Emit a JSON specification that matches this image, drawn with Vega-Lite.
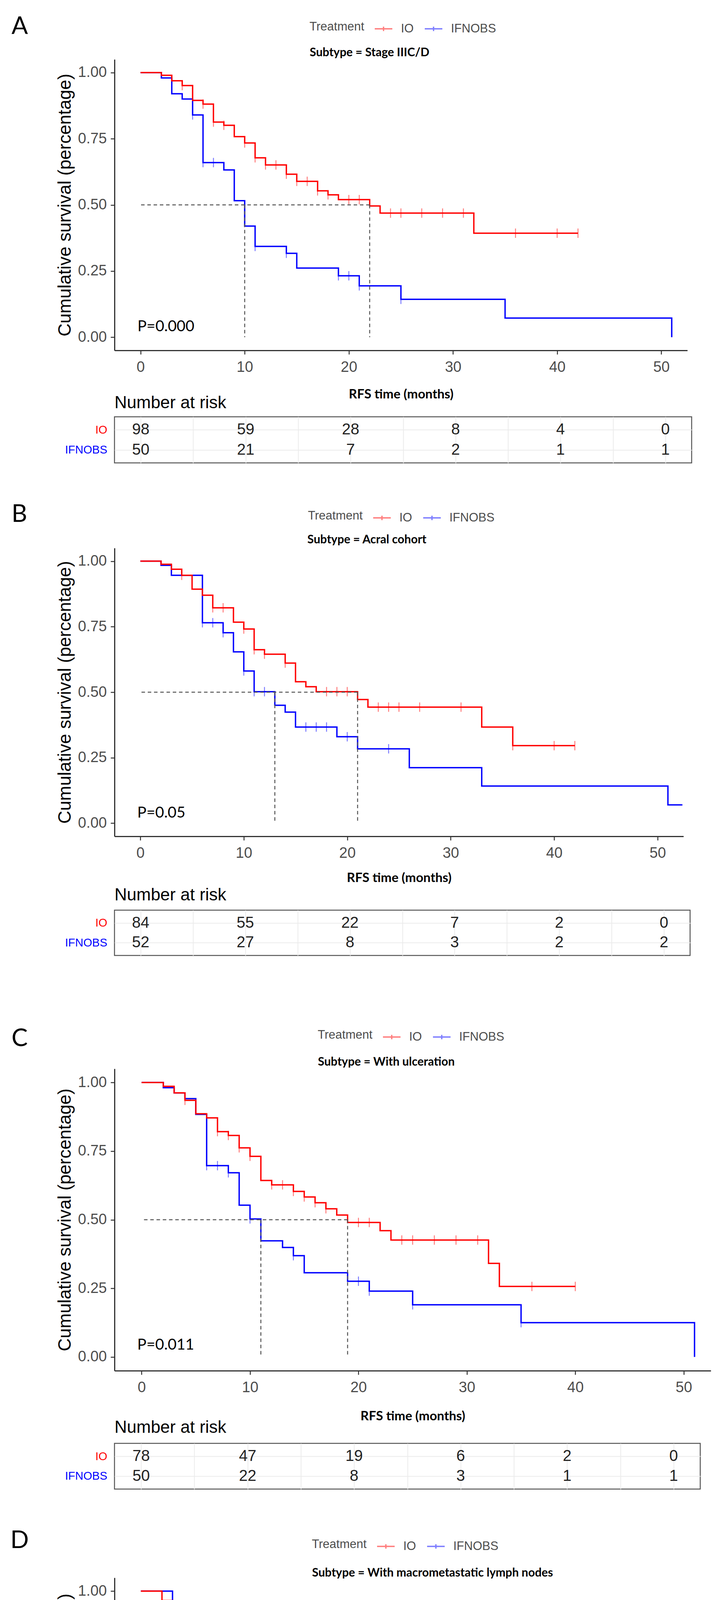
{
  "$schema": "https://vega.github.io/schema/vega-lite/v6.json",
  "background": "white",
  "padding": {"left": 26, "top": 36, "right": 5, "bottom": 5},
  "datasets": {
    "curves": [
      {"p":"A","g":"IFNOBS","t":0,"s":1},{"p":"A","g":"IFNOBS","t":2,"s":0.98},{"p":"A","g":"IFNOBS","t":3,"s":0.92},{"p":"A","g":"IFNOBS","t":4,"s":0.9},{"p":"A","g":"IFNOBS","t":5,"s":0.84},{"p":"A","g":"IFNOBS","t":6,"s":0.66},{"p":"A","g":"IFNOBS","t":8,"s":0.632},{"p":"A","g":"IFNOBS","t":9,"s":0.516},{"p":"A","g":"IFNOBS","t":10,"s":0.42},{"p":"A","g":"IFNOBS","t":11,"s":0.343},{"p":"A","g":"IFNOBS","t":14,"s":0.317},{"p":"A","g":"IFNOBS","t":15,"s":0.261},{"p":"A","g":"IFNOBS","t":19,"s":0.232},{"p":"A","g":"IFNOBS","t":21,"s":0.194},{"p":"A","g":"IFNOBS","t":25,"s":0.143},{"p":"A","g":"IFNOBS","t":35,"s":0.072},{"p":"A","g":"IFNOBS","t":51,"s":0},
      {"p":"A","g":"IO","t":0,"s":1},{"p":"A","g":"IO","t":2,"s":0.99},{"p":"A","g":"IO","t":3,"s":0.969},{"p":"A","g":"IO","t":4,"s":0.951},{"p":"A","g":"IO","t":5,"s":0.895},{"p":"A","g":"IO","t":6,"s":0.881},{"p":"A","g":"IO","t":7,"s":0.813},{"p":"A","g":"IO","t":8,"s":0.801},{"p":"A","g":"IO","t":9,"s":0.758},{"p":"A","g":"IO","t":10,"s":0.734},{"p":"A","g":"IO","t":11,"s":0.678},{"p":"A","g":"IO","t":12,"s":0.651},{"p":"A","g":"IO","t":14,"s":0.616},{"p":"A","g":"IO","t":15,"s":0.589},{"p":"A","g":"IO","t":17,"s":0.553},{"p":"A","g":"IO","t":18,"s":0.538},{"p":"A","g":"IO","t":19,"s":0.52},{"p":"A","g":"IO","t":22,"s":0.496},{"p":"A","g":"IO","t":23,"s":0.469},{"p":"A","g":"IO","t":32,"s":0.393},{"p":"A","g":"IO","t":42,"s":0.393},
      {"p":"B","g":"IFNOBS","t":0,"s":1},{"p":"B","g":"IFNOBS","t":2,"s":0.984},{"p":"B","g":"IFNOBS","t":3,"s":0.946},{"p":"B","g":"IFNOBS","t":6,"s":0.765},{"p":"B","g":"IFNOBS","t":8,"s":0.727},{"p":"B","g":"IFNOBS","t":9,"s":0.654},{"p":"B","g":"IFNOBS","t":10,"s":0.581},{"p":"B","g":"IFNOBS","t":11,"s":0.502},{"p":"B","g":"IFNOBS","t":13,"s":0.45},{"p":"B","g":"IFNOBS","t":14,"s":0.424},{"p":"B","g":"IFNOBS","t":15,"s":0.367},{"p":"B","g":"IFNOBS","t":19,"s":0.33},{"p":"B","g":"IFNOBS","t":21,"s":0.284},{"p":"B","g":"IFNOBS","t":26,"s":0.212},{"p":"B","g":"IFNOBS","t":33,"s":0.142},{"p":"B","g":"IFNOBS","t":51,"s":0.07},{"p":"B","g":"IFNOBS","t":52.4,"s":0.07},
      {"p":"B","g":"IO","t":0,"s":1},{"p":"B","g":"IO","t":2,"s":0.988},{"p":"B","g":"IO","t":3,"s":0.969},{"p":"B","g":"IO","t":4,"s":0.946},{"p":"B","g":"IO","t":5,"s":0.893},{"p":"B","g":"IO","t":6,"s":0.87},{"p":"B","g":"IO","t":7,"s":0.822},{"p":"B","g":"IO","t":9,"s":0.767},{"p":"B","g":"IO","t":10,"s":0.741},{"p":"B","g":"IO","t":11,"s":0.662},{"p":"B","g":"IO","t":12,"s":0.645},{"p":"B","g":"IO","t":14,"s":0.611},{"p":"B","g":"IO","t":15,"s":0.54},{"p":"B","g":"IO","t":16,"s":0.521},{"p":"B","g":"IO","t":17,"s":0.502},{"p":"B","g":"IO","t":21,"s":0.472},{"p":"B","g":"IO","t":22,"s":0.443},{"p":"B","g":"IO","t":33,"s":0.367},{"p":"B","g":"IO","t":36,"s":0.296},{"p":"B","g":"IO","t":42,"s":0.296},
      {"p":"C","g":"IFNOBS","t":0,"s":1},{"p":"C","g":"IFNOBS","t":2,"s":0.981},{"p":"C","g":"IFNOBS","t":3,"s":0.962},{"p":"C","g":"IFNOBS","t":4,"s":0.941},{"p":"C","g":"IFNOBS","t":5,"s":0.884},{"p":"C","g":"IFNOBS","t":6,"s":0.697},{"p":"C","g":"IFNOBS","t":8,"s":0.671},{"p":"C","g":"IFNOBS","t":9,"s":0.553},{"p":"C","g":"IFNOBS","t":10,"s":0.503},{"p":"C","g":"IFNOBS","t":11,"s":0.423},{"p":"C","g":"IFNOBS","t":13,"s":0.399},{"p":"C","g":"IFNOBS","t":14,"s":0.369},{"p":"C","g":"IFNOBS","t":15,"s":0.307},{"p":"C","g":"IFNOBS","t":19,"s":0.276},{"p":"C","g":"IFNOBS","t":21,"s":0.24},{"p":"C","g":"IFNOBS","t":25,"s":0.19},{"p":"C","g":"IFNOBS","t":35,"s":0.125},{"p":"C","g":"IFNOBS","t":51,"s":0},
      {"p":"C","g":"IO","t":0,"s":1},{"p":"C","g":"IO","t":2,"s":0.986},{"p":"C","g":"IO","t":3,"s":0.962},{"p":"C","g":"IO","t":4,"s":0.935},{"p":"C","g":"IO","t":5,"s":0.886},{"p":"C","g":"IO","t":6,"s":0.871},{"p":"C","g":"IO","t":7,"s":0.821},{"p":"C","g":"IO","t":8,"s":0.807},{"p":"C","g":"IO","t":9,"s":0.762},{"p":"C","g":"IO","t":10,"s":0.731},{"p":"C","g":"IO","t":11,"s":0.643},{"p":"C","g":"IO","t":12,"s":0.627},{"p":"C","g":"IO","t":14,"s":0.603},{"p":"C","g":"IO","t":15,"s":0.583},{"p":"C","g":"IO","t":16,"s":0.562},{"p":"C","g":"IO","t":17,"s":0.54},{"p":"C","g":"IO","t":18,"s":0.517},{"p":"C","g":"IO","t":19,"s":0.49},{"p":"C","g":"IO","t":22,"s":0.46},{"p":"C","g":"IO","t":23,"s":0.426},{"p":"C","g":"IO","t":32,"s":0.341},{"p":"C","g":"IO","t":33,"s":0.257},{"p":"C","g":"IO","t":40,"s":0.257},
      {"p":"D","g":"IFNOBS","t":0,"s":1},{"p":"D","g":"IFNOBS","t":3,"s":0.942},{"p":"D","g":"IFNOBS","t":5,"s":0.882},{"p":"D","g":"IFNOBS","t":6,"s":0.709},{"p":"D","g":"IFNOBS","t":8,"s":0.677},{"p":"D","g":"IFNOBS","t":9,"s":0.58},{"p":"D","g":"IFNOBS","t":10,"s":0.478},{"p":"D","g":"IFNOBS","t":11,"s":0.344},{"p":"D","g":"IFNOBS","t":13,"s":0.309},{"p":"D","g":"IFNOBS","t":14,"s":0.274},{"p":"D","g":"IFNOBS","t":15,"s":0.209},{"p":"D","g":"IFNOBS","t":21,"s":0.125},{"p":"D","g":"IFNOBS","t":25,"s":0.065},{"p":"D","g":"IFNOBS","t":52.5,"s":0.065},
      {"p":"D","g":"IO","t":0,"s":1},{"p":"D","g":"IO","t":2,"s":0.965},{"p":"D","g":"IO","t":3,"s":0.935},{"p":"D","g":"IO","t":4,"s":0.914},{"p":"D","g":"IO","t":5,"s":0.858},{"p":"D","g":"IO","t":6,"s":0.821},{"p":"D","g":"IO","t":7,"s":0.747},{"p":"D","g":"IO","t":8,"s":0.73},{"p":"D","g":"IO","t":9,"s":0.708},{"p":"D","g":"IO","t":11,"s":0.636},{"p":"D","g":"IO","t":12,"s":0.587},{"p":"D","g":"IO","t":14,"s":0.559},{"p":"D","g":"IO","t":15,"s":0.503},{"p":"D","g":"IO","t":17,"s":0.476},{"p":"D","g":"IO","t":19,"s":0.448},{"p":"D","g":"IO","t":28,"s":0.381},{"p":"D","g":"IO","t":42,"s":0.381}
    ],
    "censor": [
      {"p":"A","g":"IO","t":4,"s":0.951},{"p":"A","g":"IO","t":6,"s":0.881},{"p":"A","g":"IO","t":7,"s":0.813},{"p":"A","g":"IO","t":8,"s":0.801},{"p":"A","g":"IO","t":10,"s":0.734},{"p":"A","g":"IO","t":11,"s":0.678},{"p":"A","g":"IO","t":12,"s":0.651},{"p":"A","g":"IO","t":13,"s":0.651},{"p":"A","g":"IO","t":14,"s":0.616},{"p":"A","g":"IO","t":15,"s":0.589},{"p":"A","g":"IO","t":16,"s":0.589},{"p":"A","g":"IO","t":17,"s":0.553},{"p":"A","g":"IO","t":18,"s":0.538},{"p":"A","g":"IO","t":20,"s":0.52},{"p":"A","g":"IO","t":21,"s":0.52},{"p":"A","g":"IO","t":24,"s":0.469},{"p":"A","g":"IO","t":25,"s":0.469},{"p":"A","g":"IO","t":27,"s":0.469},{"p":"A","g":"IO","t":29,"s":0.469},{"p":"A","g":"IO","t":31,"s":0.469},{"p":"A","g":"IO","t":36,"s":0.393},{"p":"A","g":"IO","t":40,"s":0.393},{"p":"A","g":"IO","t":42,"s":0.393},
      {"p":"A","g":"IFNOBS","t":5,"s":0.84},{"p":"A","g":"IFNOBS","t":6,"s":0.66},{"p":"A","g":"IFNOBS","t":7,"s":0.66},{"p":"A","g":"IFNOBS","t":11,"s":0.343},{"p":"A","g":"IFNOBS","t":14,"s":0.317},{"p":"A","g":"IFNOBS","t":19,"s":0.232},{"p":"A","g":"IFNOBS","t":20,"s":0.232},{"p":"A","g":"IFNOBS","t":21,"s":0.194},{"p":"A","g":"IFNOBS","t":25,"s":0.143},
      {"p":"B","g":"IO","t":4,"s":0.946},{"p":"B","g":"IO","t":7,"s":0.822},{"p":"B","g":"IO","t":8,"s":0.822},{"p":"B","g":"IO","t":10,"s":0.741},{"p":"B","g":"IO","t":11,"s":0.662},{"p":"B","g":"IO","t":12,"s":0.645},{"p":"B","g":"IO","t":14,"s":0.611},{"p":"B","g":"IO","t":18,"s":0.502},{"p":"B","g":"IO","t":19,"s":0.502},{"p":"B","g":"IO","t":20,"s":0.502},{"p":"B","g":"IO","t":23,"s":0.443},{"p":"B","g":"IO","t":24,"s":0.443},{"p":"B","g":"IO","t":25,"s":0.443},{"p":"B","g":"IO","t":27,"s":0.443},{"p":"B","g":"IO","t":31,"s":0.443},{"p":"B","g":"IO","t":36,"s":0.296},{"p":"B","g":"IO","t":40,"s":0.296},{"p":"B","g":"IO","t":42,"s":0.296},
      {"p":"B","g":"IFNOBS","t":6,"s":0.765},{"p":"B","g":"IFNOBS","t":7,"s":0.765},{"p":"B","g":"IFNOBS","t":8,"s":0.727},{"p":"B","g":"IFNOBS","t":10,"s":0.581},{"p":"B","g":"IFNOBS","t":11,"s":0.502},{"p":"B","g":"IFNOBS","t":12,"s":0.502},{"p":"B","g":"IFNOBS","t":16,"s":0.367},{"p":"B","g":"IFNOBS","t":17,"s":0.367},{"p":"B","g":"IFNOBS","t":18,"s":0.367},{"p":"B","g":"IFNOBS","t":20,"s":0.33},{"p":"B","g":"IFNOBS","t":24,"s":0.284},
      {"p":"C","g":"IO","t":4,"s":0.935},{"p":"C","g":"IO","t":7,"s":0.821},{"p":"C","g":"IO","t":8,"s":0.807},{"p":"C","g":"IO","t":9,"s":0.762},{"p":"C","g":"IO","t":10,"s":0.731},{"p":"C","g":"IO","t":12,"s":0.627},{"p":"C","g":"IO","t":13,"s":0.627},{"p":"C","g":"IO","t":14,"s":0.603},{"p":"C","g":"IO","t":15,"s":0.583},{"p":"C","g":"IO","t":16,"s":0.562},{"p":"C","g":"IO","t":17,"s":0.54},{"p":"C","g":"IO","t":20,"s":0.49},{"p":"C","g":"IO","t":21,"s":0.49},{"p":"C","g":"IO","t":24,"s":0.426},{"p":"C","g":"IO","t":25,"s":0.426},{"p":"C","g":"IO","t":27,"s":0.426},{"p":"C","g":"IO","t":29,"s":0.426},{"p":"C","g":"IO","t":31,"s":0.426},{"p":"C","g":"IO","t":36,"s":0.257},{"p":"C","g":"IO","t":40,"s":0.257},
      {"p":"C","g":"IFNOBS","t":6,"s":0.697},{"p":"C","g":"IFNOBS","t":7,"s":0.697},{"p":"C","g":"IFNOBS","t":8,"s":0.671},{"p":"C","g":"IFNOBS","t":10,"s":0.503},{"p":"C","g":"IFNOBS","t":14,"s":0.369},{"p":"C","g":"IFNOBS","t":20,"s":0.276},{"p":"C","g":"IFNOBS","t":21,"s":0.24},{"p":"C","g":"IFNOBS","t":25,"s":0.19},{"p":"C","g":"IFNOBS","t":35,"s":0.125},
      {"p":"D","g":"IO","t":9,"s":0.708},{"p":"D","g":"IO","t":10,"s":0.708},{"p":"D","g":"IO","t":12,"s":0.587},{"p":"D","g":"IO","t":13,"s":0.587},{"p":"D","g":"IO","t":14,"s":0.559},{"p":"D","g":"IO","t":16,"s":0.503},{"p":"D","g":"IO","t":21,"s":0.448},{"p":"D","g":"IO","t":22,"s":0.448},{"p":"D","g":"IO","t":24,"s":0.448},{"p":"D","g":"IO","t":25,"s":0.448},{"p":"D","g":"IO","t":27,"s":0.448},{"p":"D","g":"IO","t":31,"s":0.381},{"p":"D","g":"IO","t":36,"s":0.381},{"p":"D","g":"IO","t":40,"s":0.381},{"p":"D","g":"IO","t":42,"s":0.381},
      {"p":"D","g":"IFNOBS","t":6,"s":0.709},{"p":"D","g":"IFNOBS","t":7,"s":0.709},{"p":"D","g":"IFNOBS","t":9,"s":0.58},{"p":"D","g":"IFNOBS","t":20,"s":0.209},{"p":"D","g":"IFNOBS","t":21,"s":0.125}
    ],
    "medians": [
      {"p":"A","g":"IFNOBS","m":10,"s":0.5},{"p":"A","g":"IO","m":22,"s":0.5},
      {"p":"B","g":"IFNOBS","m":13,"s":0.5},{"p":"B","g":"IO","m":21,"s":0.5},
      {"p":"C","g":"IFNOBS","m":11,"s":0.5},{"p":"C","g":"IO","m":19,"s":0.5},
      {"p":"D","g":"IFNOBS","m":10,"s":0.5},{"p":"D","g":"IO","m":17,"s":0.5}
    ],
    "pval": [
      {"p":"A","label":"P=0.000"},{"p":"B","label":"P=0.05"},{"p":"C","label":"P=0.011"},{"p":"D","label":"P=0.01"}
    ],
    "risk": [
      {"p":"A","g":"IO","t":0,"n":98},{"p":"A","g":"IO","t":10,"n":59},{"p":"A","g":"IO","t":20,"n":28},{"p":"A","g":"IO","t":30,"n":8},{"p":"A","g":"IO","t":40,"n":4},{"p":"A","g":"IO","t":50,"n":0},
      {"p":"A","g":"IFNOBS","t":0,"n":50},{"p":"A","g":"IFNOBS","t":10,"n":21},{"p":"A","g":"IFNOBS","t":20,"n":7},{"p":"A","g":"IFNOBS","t":30,"n":2},{"p":"A","g":"IFNOBS","t":40,"n":1},{"p":"A","g":"IFNOBS","t":50,"n":1},
      {"p":"B","g":"IO","t":0,"n":84},{"p":"B","g":"IO","t":10,"n":55},{"p":"B","g":"IO","t":20,"n":22},{"p":"B","g":"IO","t":30,"n":7},{"p":"B","g":"IO","t":40,"n":2},{"p":"B","g":"IO","t":50,"n":0},
      {"p":"B","g":"IFNOBS","t":0,"n":52},{"p":"B","g":"IFNOBS","t":10,"n":27},{"p":"B","g":"IFNOBS","t":20,"n":8},{"p":"B","g":"IFNOBS","t":30,"n":3},{"p":"B","g":"IFNOBS","t":40,"n":2},{"p":"B","g":"IFNOBS","t":50,"n":2},
      {"p":"C","g":"IO","t":0,"n":78},{"p":"C","g":"IO","t":10,"n":47},{"p":"C","g":"IO","t":20,"n":19},{"p":"C","g":"IO","t":30,"n":6},{"p":"C","g":"IO","t":40,"n":2},{"p":"C","g":"IO","t":50,"n":0},
      {"p":"C","g":"IFNOBS","t":0,"n":50},{"p":"C","g":"IFNOBS","t":10,"n":22},{"p":"C","g":"IFNOBS","t":20,"n":8},{"p":"C","g":"IFNOBS","t":30,"n":3},{"p":"C","g":"IFNOBS","t":40,"n":1},{"p":"C","g":"IFNOBS","t":50,"n":1},
      {"p":"D","g":"IO","t":0,"n":56},{"p":"D","g":"IO","t":10,"n":32},{"p":"D","g":"IO","t":20,"n":15},{"p":"D","g":"IO","t":30,"n":6},{"p":"D","g":"IO","t":40,"n":4},{"p":"D","g":"IO","t":50,"n":0},
      {"p":"D","g":"IFNOBS","t":0,"n":34},{"p":"D","g":"IFNOBS","t":10,"n":17},{"p":"D","g":"IFNOBS","t":20,"n":6},{"p":"D","g":"IFNOBS","t":30,"n":1},{"p":"D","g":"IFNOBS","t":40,"n":1},{"p":"D","g":"IFNOBS","t":50,"n":1}
    ]
  },
  "spacing": 98,
  "resolve": {"scale": {"color": "independent", "x": "independent", "y": "independent"}, "legend": {"color": "independent"}},
  "vconcat": [
    {
      "spacing": 170, "bounds": "flush",
      "resolve": {"scale": {"color": "independent", "x": "independent", "y": "independent"}, "legend": {"color": "independent"}},
      "vconcat": [
        {
          "width": 1466, "height": 745, "view": {"stroke": null},
          "resolve": {"axis": {"x": "independent", "y": "independent"}},
          "layer": [
            {"data": {"name": "curves"}, "transform": [{"filter": "datum.p == 'A'"}],
             "mark": {"type": "line", "interpolate": "step-after", "strokeWidth": 3.5},
             "encoding": {
               "x": {"field": "t", "type": "quantitative", "scale": {"domain": [-2.5, 52.5], "nice": false, "zero": false},
                     "axis": {"orient": "bottom", "values": [0,10,20,30,40,50], "title": "RFS time (months)", "titleFont": "Lato", "titleFontWeight": "bold", "titleFontSize": 33, "titleColor": "#000", "titleY": 112, "titleBaseline": "middle", "labelFontSize": 38, "labelColor": "#4d4d4d", "labelPadding": 14, "tickSize": 10, "tickWidth": 2.5, "tickColor": "#333", "domainColor": "#333", "domainWidth": 3, "grid": false, "labelFlush": false}},
               "y": {"field": "s", "type": "quantitative", "scale": {"domain": [-0.05, 1.05], "nice": false, "zero": false},
                     "axis": {"orient": "left", "values": [0,0.25,0.5,0.75,1], "format": ".2f", "title": "Cumulative survival (percentage)", "titleFontSize": 46, "titleFontWeight": "normal", "titleColor": "#000", "titlePadding": 9, "labelFontSize": 38, "labelColor": "#4d4d4d", "labelPadding": 10, "tickSize": 10, "tickWidth": 2.5, "tickColor": "#333", "domainColor": "#333", "domainWidth": 3, "grid": false}},
               "color": {"field": "g", "type": "nominal", "scale": {"domain": ["IO", "IFNOBS"], "range": ["#ff0000", "#0000ff"]},
                         "legend": {"orient": "none", "legendX": 499, "legendY": -103, "direction": "horizontal", "title": "Treatment", "titleOrient": "left", "titleFontSize": 31, "titleFontWeight": "normal", "titleColor": "#4d4d4d", "titlePadding": 24, "labelFontSize": 31, "labelColor": "#4d4d4d", "labelOffset": 20, "columnPadding": 21, "symbolType": "M-1,0H1M0,-0.25V0.25", "symbolSize": 2025, "symbolStrokeWidth": 3.5}}
             }},
            {"data": {"name": "censor"}, "transform": [{"filter": "datum.p == 'A'"}],
             "mark": {"type": "tick", "orient": "vertical", "size": 24, "thickness": 2.5, "opacity": 0.5},
             "encoding": {
               "x": {"field": "t", "type": "quantitative", "axis": {"orient": "top", "labels": false, "ticks": false, "domain": false, "grid": false, "title": "Subtype = Stage IIIC/D", "titleX": 499, "titleY": -18, "titleAlign": "left", "titleBaseline": "middle", "titleAngle": 0, "titleFont": "Lato", "titleFontWeight": "bold", "titleFontSize": 30, "titleColor": "#000"}},
               "y": {"field": "s", "type": "quantitative", "axis": {"orient": "right", "labels": false, "ticks": false, "domain": false, "grid": false, "title": "A", "titleX": -1730, "titleY": -85, "titleAlign": "left", "titleBaseline": "middle", "titleAngle": 0, "titleFont": "Lato", "titleFontWeight": "normal", "titleFontSize": 62, "titleColor": "#000"}},
               "color": {"field": "g", "type": "nominal"}}},
            {"data": {"name": "medians"}, "transform": [{"filter": "datum.p == 'A'"}],
             "mark": {"type": "rule", "color": "#555", "strokeWidth": 2.5, "strokeDash": [9, 7]},
             "encoding": {"x": {"field": "m", "type": "quantitative", "axis": null}, "y": {"field": "s", "type": "quantitative", "axis": null}, "y2": {"datum": 0}}},
            {"data": {"name": "medians"}, "transform": [{"filter": "datum.p == 'A'"}, {"aggregate": [{"op": "max", "field": "m", "as": "mmax"}], "groupby": ["s"]}],
             "mark": {"type": "rule", "color": "#555", "strokeWidth": 2.5, "strokeDash": [9, 7]},
             "encoding": {"x": {"field": "mmax", "type": "quantitative", "axis": null}, "x2": {"datum": 0}, "y": {"field": "s", "type": "quantitative", "axis": null}}},
            {"data": {"name": "pval"}, "transform": [{"filter": "datum.p == 'A'"}],
             "mark": {"type": "text", "align": "left", "baseline": "middle", "font": "Lato", "fontSize": 39, "color": "#000"},
             "encoding": {"x": {"datum": -0.3, "type": "quantitative", "axis": null}, "y": {"datum": 0.04, "type": "quantitative", "axis": null}, "text": {"field": "label", "type": "nominal"}}}
          ]
        },
        {
          "width": 1477, "height": 118, "view": {"stroke": "#555", "strokeWidth": 2.5},
          "title": {"text": "Number at risk", "anchor": "start", "frame": "group", "offset": 13, "fontSize": 44, "fontWeight": "normal", "color": "#000"},
          "data": {"name": "risk"}, "transform": [{"filter": "datum.p == 'A'"}],
          "mark": {"type": "text", "fontSize": 40, "color": "#222", "baseline": "middle"},
          "encoding": {
            "x": {"field": "t", "type": "quantitative", "scale": {"domain": [-2.5, 52.5], "nice": false, "zero": false},
                  "axis": {"values": [0,5,10,15,20,25,30,35,40,45,50], "labels": false, "ticks": false, "domain": false, "title": null, "grid": true, "gridColor": "#ebebeb", "gridWidth": 2}},
            "y": {"field": "g", "type": "nominal", "scale": {"type": "point", "domain": ["IO", "IFNOBS"], "padding": 0.65},
                  "axis": {"title": null, "ticks": false, "domain": false, "grid": true, "gridColor": "#ebebeb", "gridWidth": 2, "labelFontSize": 29, "labelPadding": 19, "labelColor": {"condition": {"test": "datum.value == 'IO'", "value": "#ff0000"}, "value": "#0000ff"}}},
            "text": {"field": "n", "type": "quantitative"}
          }
        }
      ]
    },
    {
      "spacing": 189, "bounds": "flush",
      "resolve": {"scale": {"color": "independent", "x": "independent", "y": "independent"}, "legend": {"color": "independent"}},
      "vconcat": [
        {
          "width": 1456, "height": 738, "view": {"stroke": null},
          "resolve": {"axis": {"x": "independent", "y": "independent"}},
          "layer": [
            {"data": {"name": "curves"}, "transform": [{"filter": "datum.p == 'B'"}],
             "mark": {"type": "line", "interpolate": "step-after", "strokeWidth": 3.5},
             "encoding": {
               "x": {"field": "t", "type": "quantitative", "scale": {"domain": [-2.5, 52.5], "nice": false, "zero": false},
                     "axis": {"orient": "bottom", "values": [0,10,20,30,40,50], "title": "RFS time (months)", "titleFont": "Lato", "titleFontWeight": "bold", "titleFontSize": 33, "titleColor": "#000", "titleY": 106, "titleBaseline": "middle", "labelFontSize": 38, "labelColor": "#4d4d4d", "labelPadding": 14, "tickSize": 10, "tickWidth": 2.5, "tickColor": "#333", "domainColor": "#333", "domainWidth": 3, "grid": false, "labelFlush": false}},
               "y": {"field": "s", "type": "quantitative", "scale": {"domain": [-0.05, 1.05], "nice": false, "zero": false},
                     "axis": {"orient": "left", "values": [0,0.25,0.5,0.75,1], "format": ".2f", "title": "Cumulative survival (percentage)", "titleFontSize": 46, "titleFontWeight": "normal", "titleColor": "#000", "titlePadding": 9, "labelFontSize": 38, "labelColor": "#4d4d4d", "labelPadding": 10, "tickSize": 10, "tickWidth": 2.5, "tickColor": "#333", "domainColor": "#333", "domainWidth": 3, "grid": false}},
               "color": {"field": "g", "type": "nominal", "scale": {"domain": ["IO", "IFNOBS"], "range": ["#ff0000", "#0000ff"]},
                         "legend": {"orient": "none", "legendX": 495, "legendY": -102, "direction": "horizontal", "title": "Treatment", "titleOrient": "left", "titleFontSize": 31, "titleFontWeight": "normal", "titleColor": "#4d4d4d", "titlePadding": 24, "labelFontSize": 31, "labelColor": "#4d4d4d", "labelOffset": 20, "columnPadding": 21, "symbolType": "M-1,0H1M0,-0.25V0.25", "symbolSize": 2025, "symbolStrokeWidth": 3.5}}
             }},
            {"data": {"name": "censor"}, "transform": [{"filter": "datum.p == 'B'"}],
             "mark": {"type": "tick", "orient": "vertical", "size": 24, "thickness": 2.5, "opacity": 0.5},
             "encoding": {
               "x": {"field": "t", "type": "quantitative", "axis": {"orient": "top", "labels": false, "ticks": false, "domain": false, "grid": false, "title": "Subtype = Acral cohort", "titleX": 493, "titleY": -22, "titleAlign": "left", "titleBaseline": "middle", "titleAngle": 0, "titleFont": "Lato", "titleFontWeight": "bold", "titleFontSize": 30, "titleColor": "#000"}},
               "y": {"field": "s", "type": "quantitative", "axis": {"orient": "right", "labels": false, "ticks": false, "domain": false, "grid": false, "title": "B", "titleX": -1720, "titleY": -87, "titleAlign": "left", "titleBaseline": "middle", "titleAngle": 0, "titleFont": "Lato", "titleFontWeight": "normal", "titleFontSize": 62, "titleColor": "#000"}},
               "color": {"field": "g", "type": "nominal"}}},
            {"data": {"name": "medians"}, "transform": [{"filter": "datum.p == 'B'"}],
             "mark": {"type": "rule", "color": "#555", "strokeWidth": 2.5, "strokeDash": [9, 7]},
             "encoding": {"x": {"field": "m", "type": "quantitative", "axis": null}, "y": {"field": "s", "type": "quantitative", "axis": null}, "y2": {"datum": 0}}},
            {"data": {"name": "medians"}, "transform": [{"filter": "datum.p == 'B'"}, {"aggregate": [{"op": "max", "field": "m", "as": "mmax"}], "groupby": ["s"]}],
             "mark": {"type": "rule", "color": "#555", "strokeWidth": 2.5, "strokeDash": [9, 7]},
             "encoding": {"x": {"field": "mmax", "type": "quantitative", "axis": null}, "x2": {"datum": 0}, "y": {"field": "s", "type": "quantitative", "axis": null}}},
            {"data": {"name": "pval"}, "transform": [{"filter": "datum.p == 'B'"}],
             "mark": {"type": "text", "align": "left", "baseline": "middle", "font": "Lato", "fontSize": 39, "color": "#000"},
             "encoding": {"x": {"datum": -0.3, "type": "quantitative", "axis": null}, "y": {"datum": 0.04, "type": "quantitative", "axis": null}, "text": {"field": "label", "type": "nominal"}}}
          ]
        },
        {
          "width": 1473, "height": 116, "view": {"stroke": "#555", "strokeWidth": 2.5},
          "title": {"text": "Number at risk", "anchor": "start", "frame": "group", "offset": 16, "fontSize": 44, "fontWeight": "normal", "color": "#000"},
          "data": {"name": "risk"}, "transform": [{"filter": "datum.p == 'B'"}],
          "mark": {"type": "text", "fontSize": 40, "color": "#222", "baseline": "middle"},
          "encoding": {
            "x": {"field": "t", "type": "quantitative", "scale": {"domain": [-2.5, 52.5], "nice": false, "zero": false},
                  "axis": {"values": [0,5,10,15,20,25,30,35,40,45,50], "labels": false, "ticks": true, "tickSize": 81, "tickOpacity": 0, "domain": false, "title": null, "grid": true, "gridColor": "#ebebeb", "gridWidth": 2}},
            "y": {"field": "g", "type": "nominal", "scale": {"type": "point", "domain": ["IO", "IFNOBS"], "padding": 0.65},
                  "axis": {"title": null, "ticks": false, "domain": false, "grid": true, "gridColor": "#ebebeb", "gridWidth": 2, "labelFontSize": 29, "labelPadding": 19, "labelColor": {"condition": {"test": "datum.value == 'IO'", "value": "#ff0000"}, "value": "#0000ff"}}},
            "text": {"field": "n", "type": "quantitative"}
          }
        }
      ]
    },
    {
      "spacing": 186, "bounds": "flush",
      "resolve": {"scale": {"color": "independent", "x": "independent", "y": "independent"}, "legend": {"color": "independent"}},
      "vconcat": [
        {
          "width": 1526, "height": 773, "view": {"stroke": null},
          "resolve": {"axis": {"x": "independent", "y": "independent"}},
          "layer": [
            {"data": {"name": "curves"}, "transform": [{"filter": "datum.p == 'C'"}],
             "mark": {"type": "line", "interpolate": "step-after", "strokeWidth": 3.5},
             "encoding": {
               "x": {"field": "t", "type": "quantitative", "scale": {"domain": [-2.5, 52.5], "nice": false, "zero": false},
                     "axis": {"orient": "bottom", "values": [0,10,20,30,40,50], "title": "RFS time (months)", "titleFont": "Lato", "titleFontWeight": "bold", "titleFontSize": 33, "titleColor": "#000", "titleY": 116, "titleBaseline": "middle", "labelFontSize": 38, "labelColor": "#4d4d4d", "labelPadding": 14, "tickSize": 10, "tickWidth": 2.5, "tickColor": "#333", "domainColor": "#333", "domainWidth": 3, "grid": false, "labelFlush": false}},
               "y": {"field": "s", "type": "quantitative", "scale": {"domain": [-0.05, 1.05], "nice": false, "zero": false},
                     "axis": {"orient": "left", "values": [0,0.25,0.5,0.75,1], "format": ".2f", "title": "Cumulative survival (percentage)", "titleFontSize": 46, "titleFontWeight": "normal", "titleColor": "#000", "titlePadding": 9, "labelFontSize": 38, "labelColor": "#4d4d4d", "labelPadding": 10, "tickSize": 10, "tickWidth": 2.5, "tickColor": "#333", "domainColor": "#333", "domainWidth": 3, "grid": false}},
               "color": {"field": "g", "type": "nominal", "scale": {"domain": ["IO", "IFNOBS"], "range": ["#ff0000", "#0000ff"]},
                         "legend": {"orient": "none", "legendX": 520, "legendY": -106, "direction": "horizontal", "title": "Treatment", "titleOrient": "left", "titleFontSize": 31, "titleFontWeight": "normal", "titleColor": "#4d4d4d", "titlePadding": 24, "labelFontSize": 31, "labelColor": "#4d4d4d", "labelOffset": 20, "columnPadding": 21, "symbolType": "M-1,0H1M0,-0.25V0.25", "symbolSize": 2025, "symbolStrokeWidth": 3.5}}
             }},
            {"data": {"name": "censor"}, "transform": [{"filter": "datum.p == 'C'"}],
             "mark": {"type": "tick", "orient": "vertical", "size": 24, "thickness": 2.5, "opacity": 0.5},
             "encoding": {
               "x": {"field": "t", "type": "quantitative", "axis": {"orient": "top", "labels": false, "ticks": false, "domain": false, "grid": false, "title": "Subtype = With ulceration", "titleX": 520, "titleY": -18, "titleAlign": "left", "titleBaseline": "middle", "titleAngle": 0, "titleFont": "Lato", "titleFontWeight": "bold", "titleFontSize": 30, "titleColor": "#000"}},
               "y": {"field": "s", "type": "quantitative", "axis": {"orient": "right", "labels": false, "ticks": false, "domain": false, "grid": false, "title": "C", "titleX": -1790, "titleY": -78, "titleAlign": "left", "titleBaseline": "middle", "titleAngle": 0, "titleFont": "Lato", "titleFontWeight": "normal", "titleFontSize": 62, "titleColor": "#000"}},
               "color": {"field": "g", "type": "nominal"}}},
            {"data": {"name": "medians"}, "transform": [{"filter": "datum.p == 'C'"}],
             "mark": {"type": "rule", "color": "#555", "strokeWidth": 2.5, "strokeDash": [9, 7]},
             "encoding": {"x": {"field": "m", "type": "quantitative", "axis": null}, "y": {"field": "s", "type": "quantitative", "axis": null}, "y2": {"datum": 0}}},
            {"data": {"name": "medians"}, "transform": [{"filter": "datum.p == 'C'"}, {"aggregate": [{"op": "max", "field": "m", "as": "mmax"}], "groupby": ["s"]}],
             "mark": {"type": "rule", "color": "#555", "strokeWidth": 2.5, "strokeDash": [9, 7]},
             "encoding": {"x": {"field": "mmax", "type": "quantitative", "axis": null}, "x2": {"datum": 0}, "y": {"field": "s", "type": "quantitative", "axis": null}}},
            {"data": {"name": "pval"}, "transform": [{"filter": "datum.p == 'C'"}],
             "mark": {"type": "text", "align": "left", "baseline": "middle", "font": "Lato", "fontSize": 39, "color": "#000"},
             "encoding": {"x": {"datum": -0.4, "type": "quantitative", "axis": null}, "y": {"datum": 0.044, "type": "quantitative", "axis": null}, "text": {"field": "label", "type": "nominal"}}}
          ]
        },
        {
          "width": 1499, "height": 117, "view": {"stroke": "#555", "strokeWidth": 2.5},
          "title": {"text": "Number at risk", "anchor": "start", "frame": "group", "offset": 18, "fontSize": 44, "fontWeight": "normal", "color": "#000"},
          "data": {"name": "risk"}, "transform": [{"filter": "datum.p == 'C'"}],
          "mark": {"type": "text", "fontSize": 40, "color": "#222", "baseline": "middle"},
          "encoding": {
            "x": {"field": "t", "type": "quantitative", "scale": {"domain": [-2.5, 52.5], "nice": false, "zero": false},
                  "axis": {"values": [0,5,10,15,20,25,30,35,40,45,50], "labels": false, "ticks": false, "domain": false, "title": null, "grid": true, "gridColor": "#ebebeb", "gridWidth": 2}},
            "y": {"field": "g", "type": "nominal", "scale": {"type": "point", "domain": ["IO", "IFNOBS"], "padding": 0.65},
                  "axis": {"title": null, "ticks": false, "domain": false, "grid": true, "gridColor": "#ebebeb", "gridWidth": 2, "labelFontSize": 29, "labelPadding": 19, "labelColor": {"condition": {"test": "datum.value == 'IO'", "value": "#ff0000"}, "value": "#0000ff"}}},
            "text": {"field": "n", "type": "quantitative"}
          }
        }
      ]
    },
    {
      "spacing": 197, "bounds": "flush",
      "resolve": {"scale": {"color": "independent", "x": "independent", "y": "independent"}, "legend": {"color": "independent"}},
      "vconcat": [
        {
          "width": 1485, "height": 753, "view": {"stroke": null},
          "resolve": {"axis": {"x": "independent", "y": "independent"}},
          "layer": [
            {"data": {"name": "curves"}, "transform": [{"filter": "datum.p == 'D'"}],
             "mark": {"type": "line", "interpolate": "step-after", "strokeWidth": 3.5},
             "encoding": {
               "x": {"field": "t", "type": "quantitative", "scale": {"domain": [-2.5, 52.5], "nice": false, "zero": false},
                     "axis": {"orient": "bottom", "values": [0,10,20,30,40,50], "title": "RFS time (months)", "titleFont": "Lato", "titleFontWeight": "bold", "titleFontSize": 33, "titleColor": "#000", "titleY": 112, "titleBaseline": "middle", "labelFontSize": 38, "labelColor": "#4d4d4d", "labelPadding": 14, "tickSize": 10, "tickWidth": 2.5, "tickColor": "#333", "domainColor": "#333", "domainWidth": 3, "grid": false, "labelFlush": false}},
               "y": {"field": "s", "type": "quantitative", "scale": {"domain": [-0.05, 1.05], "nice": false, "zero": false},
                     "axis": {"orient": "left", "values": [0,0.25,0.5,0.75,1], "format": ".2f", "title": "Cumulative survival (percentage)", "titleFontSize": 46, "titleFontWeight": "normal", "titleColor": "#000", "titlePadding": 9, "labelFontSize": 38, "labelColor": "#4d4d4d", "labelPadding": 10, "tickSize": 10, "tickWidth": 2.5, "tickColor": "#333", "domainColor": "#333", "domainWidth": 3, "grid": false}},
               "color": {"field": "g", "type": "nominal", "scale": {"domain": ["IO", "IFNOBS"], "range": ["#ff0000", "#0000ff"]},
                         "legend": {"orient": "none", "legendX": 505, "legendY": -105, "direction": "horizontal", "title": "Treatment", "titleOrient": "left", "titleFontSize": 31, "titleFontWeight": "normal", "titleColor": "#4d4d4d", "titlePadding": 24, "labelFontSize": 31, "labelColor": "#4d4d4d", "labelOffset": 20, "columnPadding": 21, "symbolType": "M-1,0H1M0,-0.25V0.25", "symbolSize": 2025, "symbolStrokeWidth": 3.5}}
             }},
            {"data": {"name": "censor"}, "transform": [{"filter": "datum.p == 'D'"}],
             "mark": {"type": "tick", "orient": "vertical", "size": 24, "thickness": 2.5, "opacity": 0.5},
             "encoding": {
               "x": {"field": "t", "type": "quantitative", "axis": {"orient": "top", "labels": false, "ticks": false, "domain": false, "grid": false, "title": "Subtype = With macrometastatic lymph nodes", "titleX": 505, "titleY": -13, "titleAlign": "left", "titleBaseline": "middle", "titleAngle": 0, "titleFont": "Lato", "titleFontWeight": "bold", "titleFontSize": 30, "titleColor": "#000"}},
               "y": {"field": "s", "type": "quantitative", "axis": {"orient": "right", "labels": false, "ticks": false, "domain": false, "grid": false, "title": "D", "titleX": -1752, "titleY": -96, "titleAlign": "left", "titleBaseline": "middle", "titleAngle": 0, "titleFont": "Lato", "titleFontWeight": "normal", "titleFontSize": 62, "titleColor": "#000"}},
               "color": {"field": "g", "type": "nominal"}}},
            {"data": {"name": "medians"}, "transform": [{"filter": "datum.p == 'D'"}],
             "mark": {"type": "rule", "color": "#555", "strokeWidth": 2.5, "strokeDash": [9, 7]},
             "encoding": {"x": {"field": "m", "type": "quantitative", "axis": null}, "y": {"field": "s", "type": "quantitative", "axis": null}, "y2": {"datum": 0}}},
            {"data": {"name": "medians"}, "transform": [{"filter": "datum.p == 'D'"}, {"aggregate": [{"op": "max", "field": "m", "as": "mmax"}], "groupby": ["s"]}],
             "mark": {"type": "rule", "color": "#555", "strokeWidth": 2.5, "strokeDash": [9, 7]},
             "encoding": {"x": {"field": "mmax", "type": "quantitative", "axis": null}, "x2": {"datum": 0}, "y": {"field": "s", "type": "quantitative", "axis": null}}},
            {"data": {"name": "pval"}, "transform": [{"filter": "datum.p == 'D'"}],
             "mark": {"type": "text", "align": "left", "baseline": "middle", "font": "Lato", "fontSize": 39, "color": "#000"},
             "encoding": {"x": {"datum": -0.2, "type": "quantitative", "axis": null}, "y": {"datum": 0.04, "type": "quantitative", "axis": null}, "text": {"field": "label", "type": "nominal"}}}
          ]
        },
        {
          "width": 1509, "height": 119, "view": {"stroke": "#555", "strokeWidth": 2.5},
          "title": {"text": "Number at risk", "anchor": "start", "frame": "group", "offset": 17, "fontSize": 44, "fontWeight": "normal", "color": "#000"},
          "data": {"name": "risk"}, "transform": [{"filter": "datum.p == 'D'"}],
          "mark": {"type": "text", "fontSize": 40, "color": "#222", "baseline": "middle"},
          "encoding": {
            "x": {"field": "t", "type": "quantitative", "scale": {"domain": [-2.5, 52.5], "nice": false, "zero": false},
                  "axis": {"values": [0,5,10,15,20,25,30,35,40,45,50], "labels": false, "ticks": false, "domain": false, "title": null, "grid": true, "gridColor": "#ebebeb", "gridWidth": 2}},
            "y": {"field": "g", "type": "nominal", "scale": {"type": "point", "domain": ["IO", "IFNOBS"], "padding": 0.65},
                  "axis": {"title": null, "ticks": false, "domain": false, "grid": true, "gridColor": "#ebebeb", "gridWidth": 2, "labelFontSize": 29, "labelPadding": 19, "labelColor": {"condition": {"test": "datum.value == 'IO'", "value": "#ff0000"}, "value": "#0000ff"}}},
            "text": {"field": "n", "type": "quantitative"}
          }
        }
      ]
    }
  ],
  "config": {
    "font": "Liberation Sans",
    "view": {"stroke": null},
    "axis": {"labelFont": "Liberation Sans", "titleFont": "Liberation Sans"},
    "legend": {"labelFont": "Liberation Sans", "titleFont": "Liberation Sans"},
    "title": {"font": "Liberation Sans"}
  }
}
